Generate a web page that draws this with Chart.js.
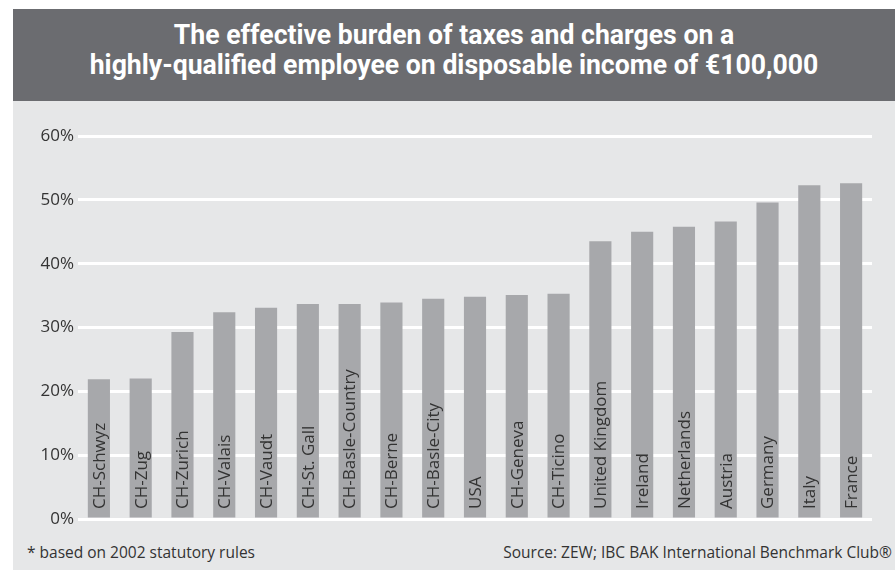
<!DOCTYPE html>
<html lang="en">
<head>
    <meta charset="UTF-8">
    <title>Effective tax burden</title>
    <style>
body {
    margin: 0;
    width: 895px;
    height: 570px;
    background: #fff;
    position: relative;
    overflow: hidden;
    font-family: 'Open Sans', 'Noto Sans', sans-serif;
}

#title-bar {
    position: absolute;
    left: 13px;
    top: 9px;
    width: 882px;
    height: 92px;
    background: #6b6c70;
}

#title-bar h1 {
    margin: 0;
    padding-top: 11px;
    color: #fff;
    text-align: center;
    font-family: 'Roboto', sans-serif;
    font-weight: bold;
    font-size: 28px;
    line-height: 30px;
    transform: scaleX(0.95);
    transform-origin: center top;
}

#panel {
    position: absolute;
    left: 13px;
    top: 101px;
    width: 882px;
    height: 469px;
    background: #e6e7e8;
}

#chart-box {
    position: absolute;
    left: 0;
    top: 0;
    width: 882px;
    height: 440px;
}

.note {
    position: absolute;
    top: 541px;
    font-size: 15.5px;
    color: #333;
}
    </style>
</head>
<body>
    <div id="title-bar">
        <h1>The effective burden of taxes and charges on a<br>highly-qualified employee on disposable income of €100,000</h1>
    </div>
    <div id="panel">
        <div id="chart-box"><canvas id="burdenChart"></canvas></div>
    </div>
    <div class="note" style="left: 27px;">* based on 2002 statutory rules</div>
    <div class="note" style="right: 3px;">Source: ZEW; IBC BAK International Benchmark Club®</div>

    <script src="https://cdn.jsdelivr.net/npm/chart.js"></script>
    <script>
        // Places, left to right
        const places = ['CH-Schwyz', 'CH-Zug', 'CH-Zurich', 'CH-Valais', 'CH-Vaudt', 'CH-St. Gall',
            'CH-Basle-Country', 'CH-Berne', 'CH-Basle-City', 'USA', 'CH-Geneva', 'CH-Ticino',
            'United Kingdom', 'Ireland', 'Netherlands', 'Austria', 'Germany', 'Italy', 'France'];

        // Effective burden in percent
        const burden = [21.9, 22.0, 29.3, 32.4, 33.1, 33.7,
            33.7, 33.9, 34.5, 34.8, 35.1, 35.3,
            43.5, 45.0, 45.8, 46.6, 49.6, 52.3, 52.6];

        const yTicks = [0, 10, 20, 30, 40, 50, 60];

        // Writes the place names upright inside each bar
        const barLabels = {
            id: 'barLabels',
            afterDatasetsDraw(chart) {
                const ctx = chart.ctx;
                const xScale = chart.scales.x;
                const yScale = chart.scales.y;
                const base = yScale.getPixelForValue(0);
                ctx.save();
                ctx.fillStyle = '#333';
                ctx.font = '17px "Open Sans", "Noto Sans", sans-serif';
                ctx.textAlign = 'left';
                ctx.textBaseline = 'middle';
                places.forEach((name, i) => {
                    ctx.save();
                    ctx.translate(xScale.getPixelForValue(i), base - 10);
                    ctx.rotate(-Math.PI / 2);
                    ctx.fillText(name, 0, 1);
                    ctx.restore();
                });
                ctx.restore();
            }
        };

        new Chart(document.getElementById('burdenChart'), {
            type: 'bar',
            data: {
                labels: places,
                datasets: [{
                    data: burden,
                    backgroundColor: '#a7a8ab',
                    barPercentage: 0.53,
                    categoryPercentage: 1
                }]
            },
            options: {
                responsive: true,
                maintainAspectRatio: false,
                animation: false,
                layout: {
                    padding: { top: 35, right: 23, bottom: 22, left: 0 }
                },
                plugins: {
                    legend: { display: false },
                    tooltip: { enabled: false }
                },
                scales: {
                    x: { display: false },
                    y: {
                        min: 0,
                        max: 60,
                        afterBuildTicks(scale) {
                            scale.ticks = yTicks.map(v => ({ value: v }));
                        },
                        afterFit(scale) {
                            scale.width = 65;
                        },
                        border: { display: false },
                        grid: {
                            color: '#ffffff',
                            lineWidth: 3,
                            drawTicks: false
                        },
                        ticks: {
                            padding: 4,
                            color: '#333',
                            font: { family: '"Open Sans", "Noto Sans", sans-serif', size: 17 },
                            callback: v => v + '%'
                        }
                    }
                }
            },
            plugins: [barLabels]
        });
    </script>
</body>
</html>
